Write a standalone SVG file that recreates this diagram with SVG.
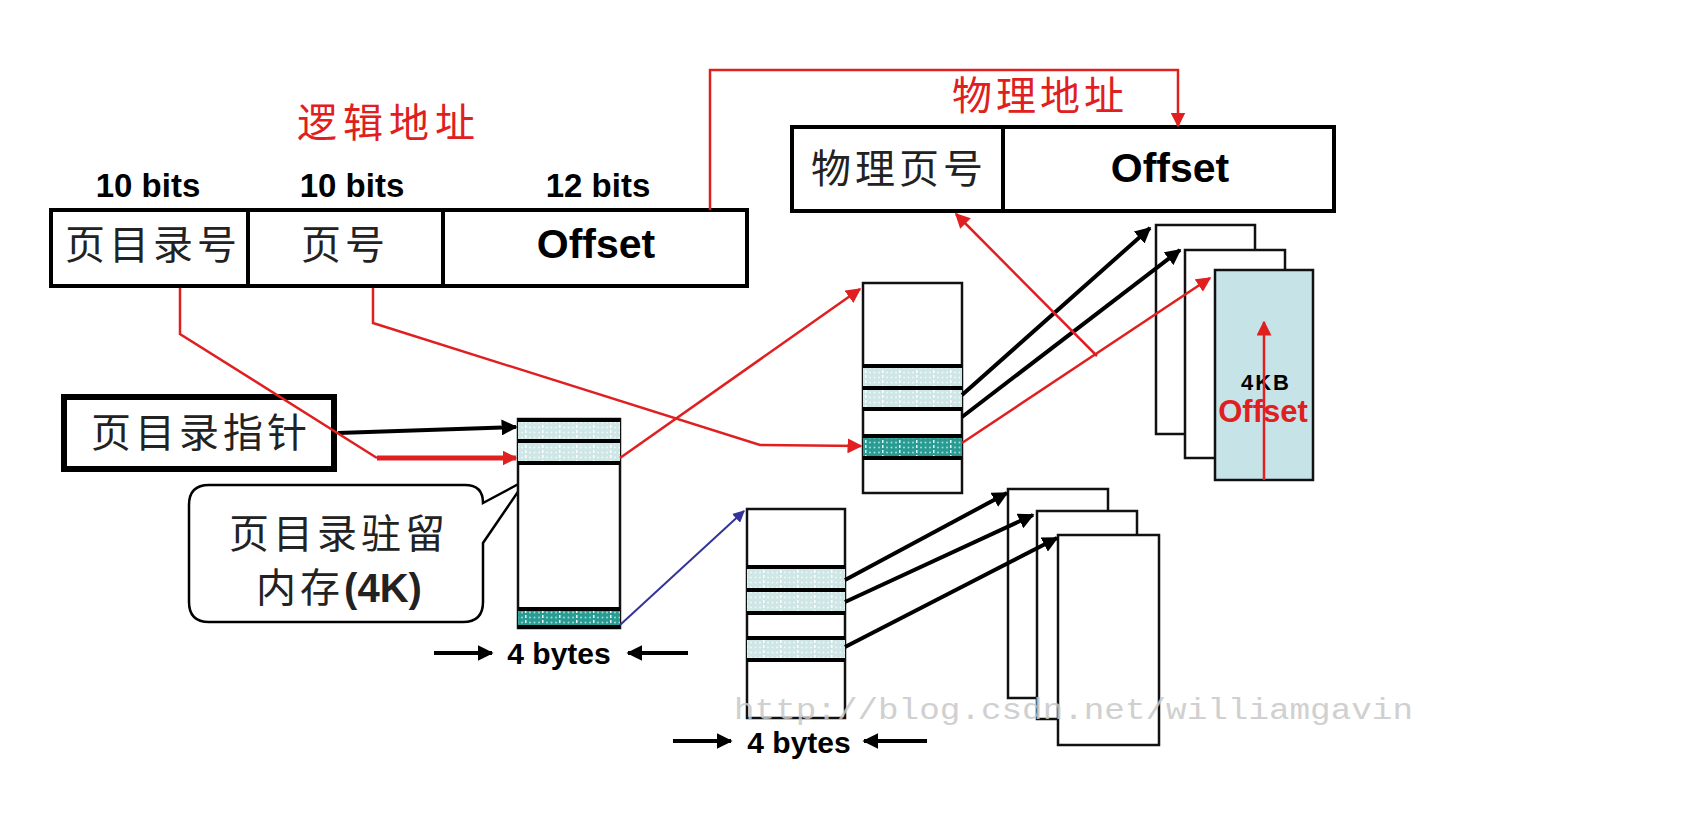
<svg xmlns="http://www.w3.org/2000/svg" width="1690" height="830" viewBox="0 0 1690 830">
<defs>
<style>
.box{fill:#fff;stroke:#000;stroke-width:4}
.tbl{fill:#fff;stroke:#111;stroke-width:2.5}
.sep{stroke:#000;stroke-width:4}
.cjk{font-family:"Noto Sans CJK SC","Noto Sans CJK JP",sans-serif;font-size:40px;fill:#222;text-anchor:middle;letter-spacing:4px}
.bold{font-family:"Liberation Sans",Arial,sans-serif;font-weight:bold;fill:#000;text-anchor:middle}
.red{fill:none;stroke:#e02020;stroke-width:2.5}
.blk{fill:none;stroke:#000;stroke-width:4}
.page{fill:#fff;stroke:#111;stroke-width:2.5}
</style>
<pattern id="lt" width="17" height="5" patternUnits="userSpaceOnUse">
<rect width="17" height="5" fill="#cfe6e6"/>
<circle cx="3" cy="2.5" r="0.9" fill="#f2fafa"/>
<circle cx="7.5" cy="2.5" r="0.9" fill="#f2fafa"/>
<circle cx="12" cy="2.5" r="0.9" fill="#f2fafa"/>
<rect x="15" y="0" width="1.5" height="3" fill="#ffffff"/>
</pattern>
<pattern id="dk" width="17" height="5" patternUnits="userSpaceOnUse">
<rect width="17" height="5" fill="#2a9b92"/>
<circle cx="3" cy="2.5" r="1" fill="#9ee0da"/>
<circle cx="7.5" cy="2.5" r="1" fill="#9ee0da"/>
<circle cx="12" cy="2.5" r="1" fill="#9ee0da"/>
<rect x="15" y="0" width="1.5" height="3" fill="#e8fbfa"/>
</pattern>
<marker id="ab" viewBox="0 0 10 10" refX="9" refY="5" markerWidth="4" markerHeight="4" orient="auto" markerUnits="strokeWidth"><path d="M0,0 L10,5 L0,10 Z" fill="#000"/></marker>
<marker id="ar" viewBox="0 0 10 10" refX="9" refY="5" markerWidth="6" markerHeight="6" orient="auto" markerUnits="strokeWidth"><path d="M0,0 L10,5 L0,10 Z" fill="#e02020"/></marker>
<marker id="arT" viewBox="0 0 10 10" refX="9" refY="5" markerWidth="3" markerHeight="3" orient="auto" markerUnits="strokeWidth"><path d="M0,0 L10,5 L0,10 Z" fill="#e02020"/></marker>
<marker id="abl" viewBox="0 0 10 10" refX="9" refY="5" markerWidth="6" markerHeight="6" orient="auto" markerUnits="strokeWidth"><path d="M0,0 L10,5 L0,10 Z" fill="#33339a"/></marker>
</defs>
<rect width="1690" height="830" fill="#fff"/>

<g id="title-logical"><text x="389" y="137" class="cjk" style="fill:#e02020;letter-spacing:6px">逻辑地址</text></g>
<g id="title-physical"><text x="1040" y="110" class="cjk" style="fill:#e02020">物理地址</text></g>

<g id="logical-address">
<text x="148" y="197" class="bold" font-size="33">10 bits</text>
<text x="352" y="197" class="bold" font-size="33">10 bits</text>
<text x="598" y="197" class="bold" font-size="33">12 bits</text>
<rect x="51" y="210" width="696" height="76" class="box"/>
<line x1="248" y1="210" x2="248" y2="286" class="sep"/>
<line x1="443" y1="210" x2="443" y2="286" class="sep"/>
<text x="153" y="259" class="cjk">页目录号</text>
<text x="345" y="259" class="cjk">页号</text>
<text x="596" y="258" class="bold" font-size="41">Offset</text>
</g>

<g id="physical-address">
<rect x="792" y="127" width="542" height="84" class="box"/>
<line x1="1003" y1="127" x2="1003" y2="211" class="sep"/>
<text x="899" y="183" class="cjk">物理页号</text>
<text x="1170" y="182" class="bold" font-size="41">Offset</text>
</g>

<g id="pdbr">
<rect x="64" y="397" width="270" height="72" fill="#fff" stroke="#000" stroke-width="6"/>
<text x="201" y="447" class="cjk">页目录指针</text>
</g>

<g id="callout">
<path d="M209,485 H465 Q483,485 483,503 L526,480 L483,543 V602 Q483,622 463,622 H209 Q189,622 189,602 V505 Q189,485 209,485 Z" fill="#fff" stroke="#000" stroke-width="2.5"/>
<text x="339" y="548" class="cjk">页目录驻留</text>
<text x="339" y="602" class="cjk">内存<tspan style="font-family:'Liberation Sans',Arial,sans-serif;font-weight:bold;letter-spacing:0">(4K)</tspan></text>
</g>

<g id="page-directory">
<rect x="518" y="419" width="102" height="209" class="tbl"/>
<rect x="518" y="420" width="102" height="20" fill="url(#lt)"/>
<rect x="518" y="443" width="102" height="19" fill="url(#lt)"/>
<rect x="518" y="610" width="102" height="17" fill="url(#dk)"/>
<line x1="518" y1="420" x2="620" y2="420" class="sep"/>
<line x1="518" y1="441" x2="620" y2="441" class="sep"/>
<line x1="518" y1="463" x2="620" y2="463" class="sep"/>
<line x1="518" y1="609" x2="620" y2="609" class="sep"/>
<line x1="518" y1="627" x2="620" y2="627" class="sep"/>
</g>

<g id="page-table-1">
<rect x="863" y="283" width="99" height="210" class="tbl"/>
<rect x="863" y="367" width="99" height="20" fill="url(#lt)"/>
<rect x="863" y="389" width="99" height="19" fill="url(#lt)"/>
<rect x="863" y="437" width="99" height="20" fill="url(#dk)"/>
<line x1="863" y1="366" x2="962" y2="366" class="sep"/>
<line x1="863" y1="388" x2="962" y2="388" class="sep"/>
<line x1="863" y1="409" x2="962" y2="409" class="sep"/>
<line x1="863" y1="436" x2="962" y2="436" class="sep"/>
<line x1="863" y1="458" x2="962" y2="458" class="sep"/>
</g>

<g id="page-table-2">
<rect x="747" y="509" width="98" height="209" class="tbl"/>
<rect x="747" y="568" width="98" height="21" fill="url(#lt)"/>
<rect x="747" y="591" width="98" height="21" fill="url(#lt)"/>
<rect x="747" y="639" width="98" height="20" fill="url(#lt)"/>
<line x1="747" y1="567" x2="845" y2="567" class="sep"/>
<line x1="747" y1="590" x2="845" y2="590" class="sep"/>
<line x1="747" y1="613" x2="845" y2="613" class="sep"/>
<line x1="747" y1="638" x2="845" y2="638" class="sep"/>
<line x1="747" y1="660" x2="845" y2="660" class="sep"/>
</g>

<g id="pages-1">
<rect x="1156" y="225" width="99" height="209" class="page"/>
<rect x="1185" y="250" width="100" height="208" class="page"/>
<rect x="1215" y="270" width="98" height="210" class="page" style="fill:#c6e3e7"/>
<text x="1266" y="390" class="bold" font-size="22" style="letter-spacing:2px">4KB</text>
<text x="1263" y="422" class="bold" font-size="31" style="fill:#e02020">Offset</text>
</g>

<g id="pages-2">
<rect x="1008" y="489" width="100" height="209" class="page"/>
<rect x="1037" y="511" width="100" height="208" class="page"/>
<rect x="1058" y="535" width="101" height="210" class="page"/>
</g>

<g id="connectors">
<polyline points="710,210 710,70 1178,70 1178,126" class="red" marker-end="url(#ar)"/>
<line x1="338" y1="433" x2="516" y2="427" class="blk" marker-end="url(#ab)"/>
<polyline points="180,288 180,334 377,458" class="red"/>
<line x1="377" y1="458" x2="516" y2="458" stroke="#e02020" stroke-width="5" marker-end="url(#arT)"/>
<line x1="620" y1="458" x2="860" y2="289" class="red" marker-end="url(#ar)"/>
<line x1="620" y1="625" x2="744" y2="511" stroke="#33339a" stroke-width="2" marker-end="url(#abl)"/>
<polyline points="373,288 373,323 760,445 861,446" class="red" marker-end="url(#ar)"/>
<line x1="962" y1="395" x2="1150" y2="228" class="blk" marker-end="url(#ab)"/>
<line x1="962" y1="417" x2="1180" y2="250" class="blk" marker-end="url(#ab)"/>
<line x1="962" y1="443" x2="1210" y2="278" class="red" marker-end="url(#ar)"/>
<line x1="1097" y1="356" x2="956" y2="214" class="red" marker-end="url(#ar)"/>
<line x1="1264" y1="480" x2="1264" y2="322" class="red" marker-end="url(#ar)"/>
<line x1="845" y1="580" x2="1007" y2="493" class="blk" marker-end="url(#ab)"/>
<line x1="845" y1="602" x2="1033" y2="515" class="blk" marker-end="url(#ab)"/>
<line x1="845" y1="647" x2="1057" y2="538" class="blk" marker-end="url(#ab)"/>
<line x1="434" y1="653" x2="492" y2="653" class="blk" marker-end="url(#ab)"/>
<line x1="688" y1="653" x2="628" y2="653" class="blk" marker-end="url(#ab)"/>
<line x1="673" y1="741" x2="731" y2="741" class="blk" marker-end="url(#ab)"/>
<line x1="927" y1="741" x2="864" y2="741" class="blk" marker-end="url(#ab)"/>
</g>

<g id="width-labels">
<text x="559" y="664" class="bold" font-size="30">4 bytes</text>
<text x="799" y="753" class="bold" font-size="30">4 bytes</text>
</g>

<g id="watermark"><text x="734" y="719" font-family="'Liberation Mono',monospace" font-size="30" fill="#c8c8c8" opacity="0.85" textLength="679" lengthAdjust="spacingAndGlyphs">http://blog.csdn.net/williamgavin</text></g>
</svg>
